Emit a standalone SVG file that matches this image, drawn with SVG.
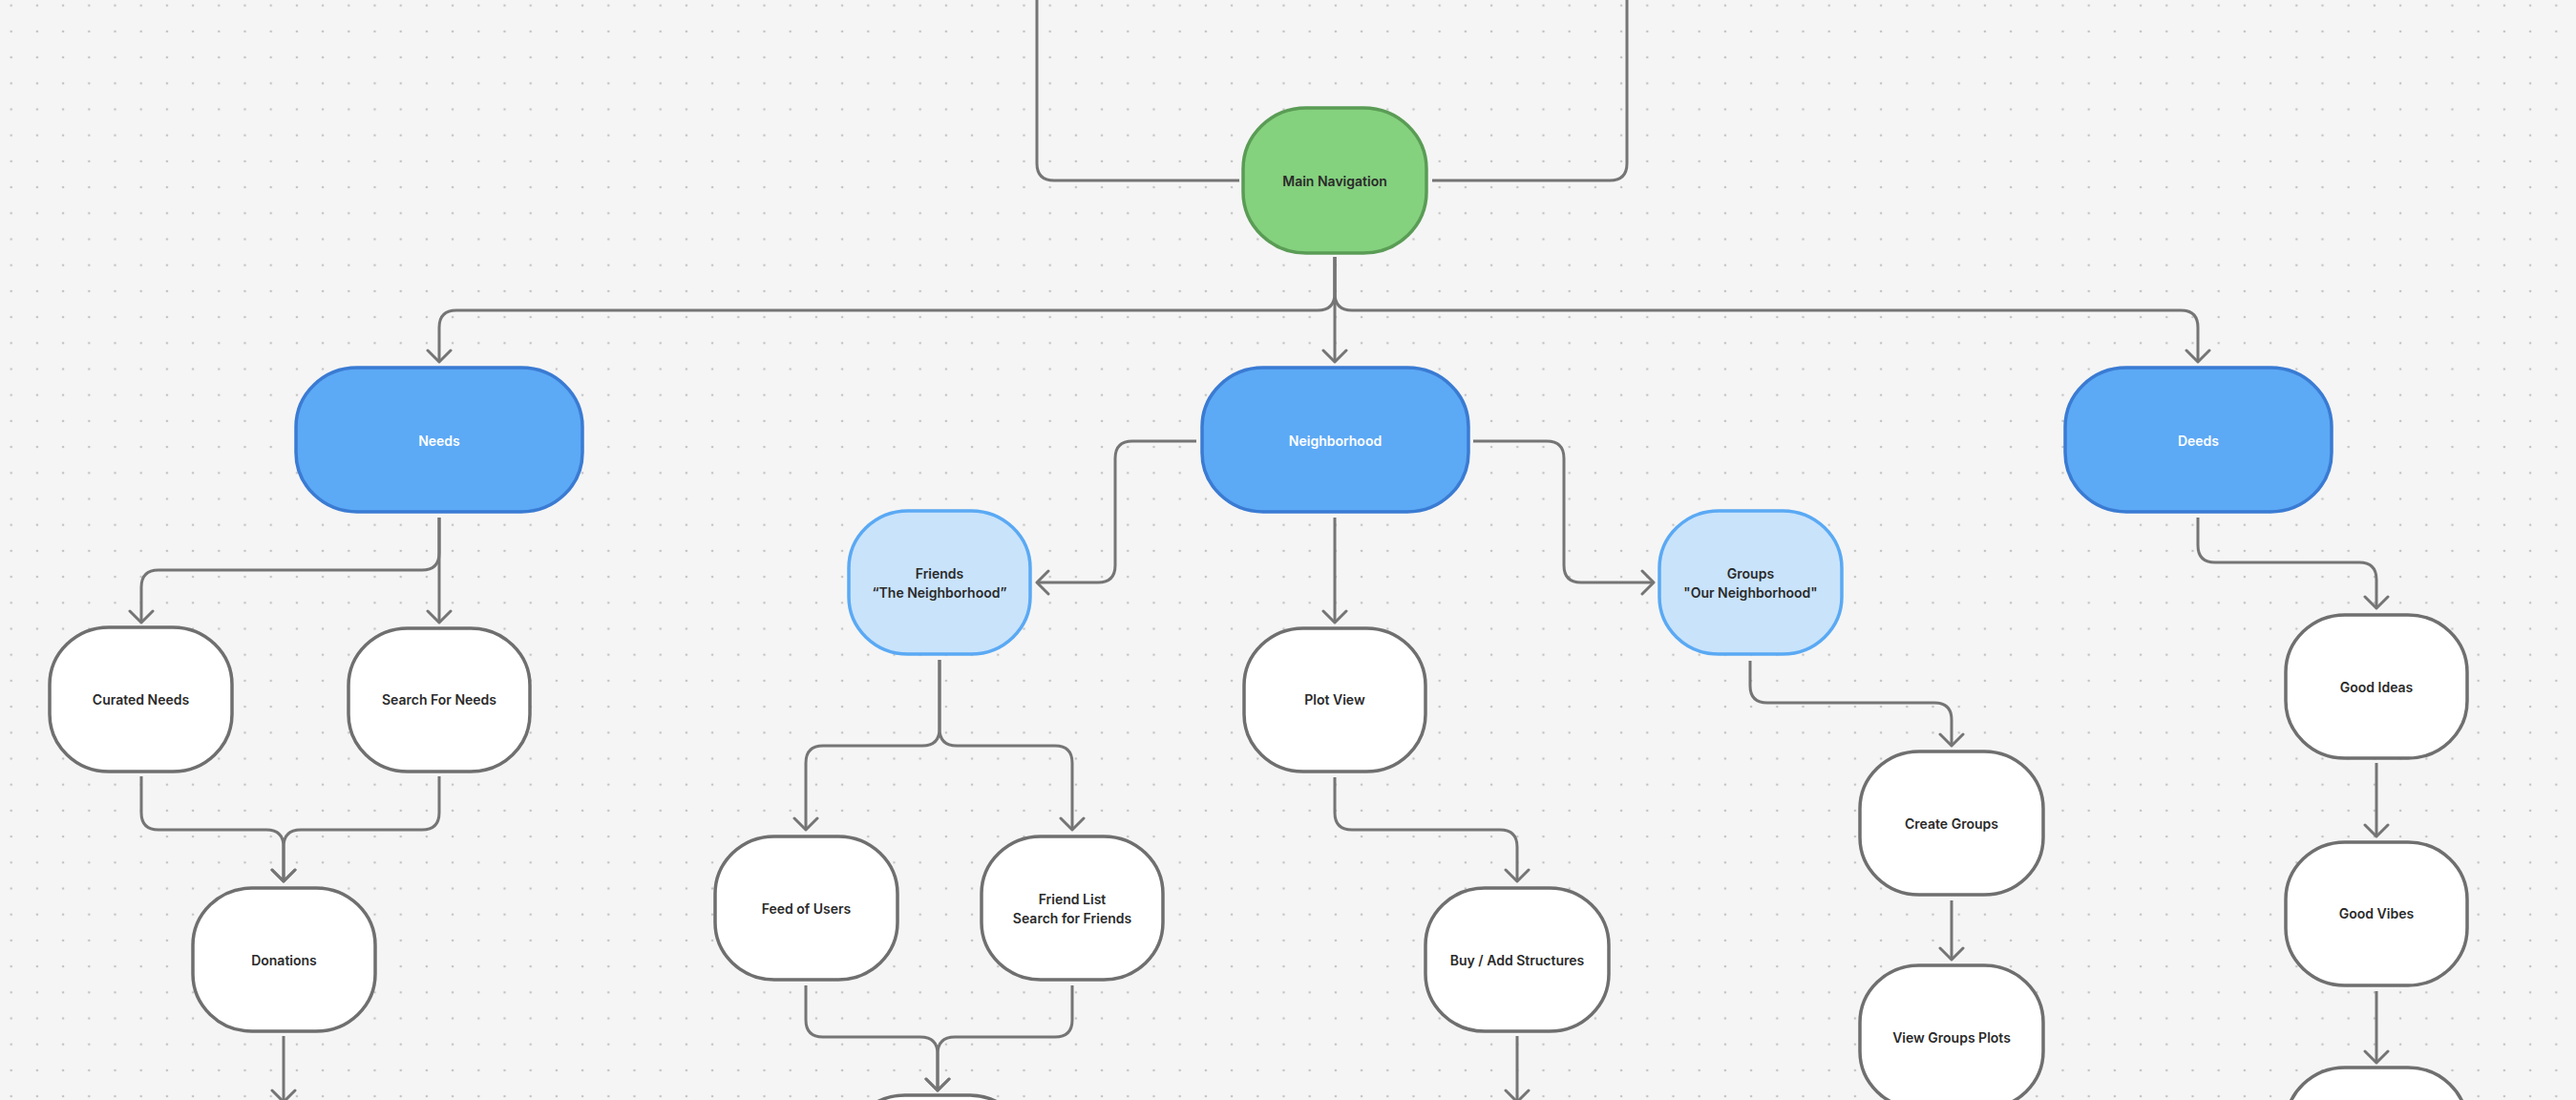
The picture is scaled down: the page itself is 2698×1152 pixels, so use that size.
<svg xmlns="http://www.w3.org/2000/svg" width="2698" height="1152" viewBox="0 0 2698 1152">
<defs>
<pattern id="dots" x="-1.9" y="-7.9" width="27.2" height="27.2" patternUnits="userSpaceOnUse">
<circle cx="13.6" cy="13.6" r="1.3" fill="#c2c2c2"/>
</pattern>
<marker id="arr" viewBox="-14 -14 16 28" markerWidth="16" markerHeight="28" refX="0" refY="0" orient="auto" markerUnits="userSpaceOnUse">
<path d="M -12 -12 L 0 0 L -12 12" fill="none" stroke="#757575" stroke-width="3" stroke-linecap="round" stroke-linejoin="round"/>
</marker>
<style>
.c{fill:none;stroke:#757575;stroke-width:3;stroke-linejoin:round}
.a{marker-end:url(#arr)}
.w{fill:#ffffff;stroke:#6f6f6f;stroke-width:3.5}
.b{fill:#5ca9f5;stroke:#3a7bd3;stroke-width:3.5}
.l{fill:#c9e3fb;stroke:#5aa9f4;stroke-width:3.5}
.g{fill:#84d17e;stroke:#5a9c55;stroke-width:3.5}
text{font-family:Inter,"Noto Sans","Liberation Sans",sans-serif;font-size:14px;font-weight:600;text-anchor:middle;fill:#2a2a2a}
.tw{fill:#ffffff}
</style>
</defs>
<rect width="2698" height="1152" fill="#f5f5f5"/>
<rect width="2698" height="1152" fill="url(#dots)"/>

<g id="connectors">
<path class="c" d="M 1298 189 H 1104 Q 1086 189 1086 171 V -5"/>
<path class="c" d="M 1500 189 H 1686 Q 1704 189 1704 171 V -5"/>
<path class="c a" d="M 1398 269 V 307 Q 1398 325 1380 325 H 478 Q 460 325 460 343 V 379"/>
<path class="c a" d="M 1398 269 V 379"/>
<path class="c a" d="M 1398 269 V 307 Q 1398 325 1416 325 H 2284 Q 2302 325 2302 343 V 379"/>
<path class="c a" d="M 460 542 V 652"/>
<path class="c a" d="M 460 542 V 579 Q 460 597 442 597 H 166 Q 148 597 148 615 V 652"/>
<path class="c a" d="M 148 813 V 851 Q 148 869 166 869 H 279 Q 297 869 297 887 V 923"/>
<path class="c a" d="M 460 813 V 851 Q 460 869 442 869 H 315 Q 297 869 297 887 V 923"/>
<path class="c a" d="M 297 1085 V 1154"/>
<path class="c a" d="M 1253 462 H 1186 Q 1168 462 1168 480 V 592 Q 1168 610 1150 610 H 1086"/>
<path class="c a" d="M 1543 462 H 1620 Q 1638 462 1638 480 V 592 Q 1638 610 1656 610 H 1732"/>
<path class="c a" d="M 1398 542 V 652"/>
<path class="c a" d="M 984 691 V 763 Q 984 781 966 781 H 862 Q 844 781 844 799 V 869"/>
<path class="c a" d="M 984 691 V 763 Q 984 781 1002 781 H 1105 Q 1123 781 1123 799 V 869"/>
<path class="c a" d="M 844 1032 V 1068 Q 844 1086 862 1086 H 964 Q 982 1086 982 1104 V 1142"/>
<path class="c a" d="M 1123 1032 V 1068 Q 1123 1086 1105 1086 H 1000 Q 982 1086 982 1104 V 1142"/>
<path class="c a" d="M 1398 814 V 851 Q 1398 869 1416 869 H 1571 Q 1589 869 1589 887 V 923"/>
<path class="c a" d="M 1589 1085 V 1154"/>
<path class="c a" d="M 1833 692 V 718 Q 1833 736 1851 736 H 2026 Q 2044 736 2044 754 V 781"/>
<path class="c a" d="M 2044 943 V 1005"/>
<path class="c a" d="M 2302 542 V 571 Q 2302 589 2320 589 H 2471 Q 2489 589 2489 607 V 637"/>
<path class="c a" d="M 2489 799 V 876"/>
<path class="c a" d="M 2489 1038 V 1113"/>
</g>

<g id="main-navigation"><rect class="g" x="1302" y="113" width="192" height="152" rx="66" ry="64"/><text x="1398" y="195">Main Navigation</text></g>
<g id="needs"><rect class="b" x="310" y="385" width="300" height="151" rx="64" ry="62"/><text class="tw" x="460" y="467">Needs</text></g>
<g id="neighborhood"><rect class="b" x="1259" y="385" width="279" height="151" rx="64" ry="62"/><text class="tw" x="1398.5" y="467">Neighborhood</text></g>
<g id="deeds"><rect class="b" x="2163" y="385" width="279" height="151" rx="64" ry="62"/><text class="tw" x="2302.5" y="467">Deeds</text></g>
<g id="friends"><rect class="l" x="889" y="535" width="190" height="150" rx="62" ry="60"/><text x="984" y="606">Friends</text><text x="984" y="626">“The Neighborhood”</text></g>
<g id="groups"><rect class="l" x="1738" y="535" width="191" height="150" rx="62" ry="60"/><text x="1833.5" y="606">Groups</text><text x="1833.5" y="626">"Our Neighborhood"</text></g>
<g id="curated-needs"><rect class="w" x="52" y="657" width="191" height="151" rx="62" ry="60"/><text x="147.5" y="738">Curated Needs</text></g>
<g id="search-for-needs"><rect class="w" x="365" y="658" width="190" height="150" rx="62" ry="60"/><text x="460" y="738">Search For Needs</text></g>
<g id="plot-view"><rect class="w" x="1303" y="658" width="190" height="150" rx="62" ry="60"/><text x="1398" y="738">Plot View</text></g>
<g id="good-ideas"><rect class="w" x="2394" y="644" width="190" height="150" rx="62" ry="60"/><text x="2489" y="725">Good Ideas</text></g>
<g id="create-groups"><rect class="w" x="1948" y="787" width="192" height="150" rx="62" ry="60"/><text x="2044" y="868">Create Groups</text></g>
<g id="feed-of-users"><rect class="w" x="749" y="876" width="191" height="150" rx="62" ry="60"/><text x="844.5" y="957">Feed of Users</text></g>
<g id="friend-list"><rect class="w" x="1028" y="876" width="190" height="150" rx="62" ry="60"/><text x="1123" y="947">Friend List</text><text x="1123" y="967">Search for Friends</text></g>
<g id="good-vibes"><rect class="w" x="2394" y="882" width="190" height="150" rx="62" ry="60"/><text x="2489" y="962">Good Vibes</text></g>
<g id="donations"><rect class="w" x="202" y="930" width="191" height="150" rx="62" ry="60"/><text x="297.5" y="1011">Donations</text></g>
<g id="buy-add-structures"><rect class="w" x="1493" y="930" width="192" height="150" rx="62" ry="60"/><text x="1589" y="1011">Buy / Add Structures</text></g>
<g id="view-groups-plots"><rect class="w" x="1948" y="1011" width="192" height="150" rx="62" ry="60"/><text x="2044" y="1092">View Groups Plots</text></g>
<g id="friends-next"><rect class="w" x="886" y="1147" width="191" height="150" rx="62" ry="60"/></g>
<g id="deeds-next"><rect class="w" x="2394" y="1118" width="190" height="150" rx="62" ry="60"/></g>
</svg>
